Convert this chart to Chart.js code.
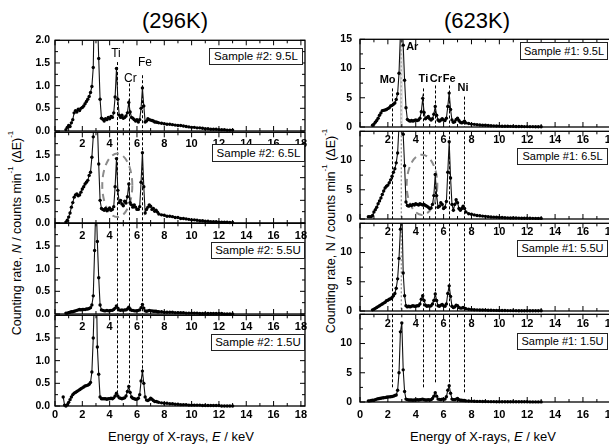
<!DOCTYPE html>
<html>
<head>
<meta charset="utf-8">
<script src="https://cdn.jsdelivr.net/npm/chart.js@4.4.1/dist/chart.umd.min.js"></script>
<style>
html,body{margin:0;padding:0;background:#fff;}
body{width:609px;height:446px;overflow:hidden;position:relative;font-family:Arial,"Liberation Sans",sans-serif;color:#000;}
canvas.panel{position:absolute;}
.ttl{position:absolute;font-size:22px;transform:translateX(-50%);white-space:nowrap;line-height:26px;}
.ylab{position:absolute;font-size:12.5px;white-space:nowrap;transform:translate(-50%,-50%) rotate(-90deg);}
.xlab{position:absolute;font-size:13px;white-space:nowrap;transform:translateX(-50%);}
.tag{position:absolute;border:1px solid #222;background:#fff;font-size:11.5px;text-align:center;box-sizing:border-box;white-space:nowrap;}
sup{font-size:8px;line-height:0;vertical-align:top;position:relative;top:1px;}
</style>
</head>
<body>
<div class="ttl" style="left:175px;top:8px">(296K)</div>
<div class="ttl" style="left:477px;top:8px">(623K)</div>
<div class="ylab" style="left:17px;top:233px">Counting rate, <i>N</i> / counts min<sup>-1</sup> (&Delta;E)<sup>-1</sup></div>
<div class="ylab" style="left:331px;top:231px">Counting rate, N / counts min<sup>-1</sup> (&Delta;E)<sup>-1</sup></div>
<div class="xlab" style="left:181px;top:429px">Energy of X-rays, <i>E</i> / keV</div>
<div class="xlab" style="left:483px;top:429px">Energy of X-rays, <i>E</i> / keV</div>
<script>
/* ---------- data: energy grid (keV) and counting rates ---------- */
const E_KEV = [
  0.6,0.7,0.8,0.9,1.0,1.1,1.2,1.3,1.4,1.5,
  1.6,1.7,1.8,1.9,2.0,2.1,2.2,2.3,2.4,2.5,
  2.6,2.7,2.8,2.9,3.0,3.1,3.2,3.3,3.4,3.5,
  3.6,3.7,3.8,3.9,4.0,4.1,4.2,4.3,4.4,4.5,
  4.6,4.7,4.8,4.9,5.0,5.1,5.2,5.3,5.4,5.5,
  5.6,5.7,5.8,5.9,6.0,6.1,6.2,6.3,6.4,6.5,
  6.6,6.7,6.8,6.9,7.0,7.1,7.2,7.3,7.4,7.5,
  7.6,7.8,8.0,8.2,8.4,8.6,8.8,9.0,9.2,9.4,
  9.6,9.8,10.0,10.2,10.4,10.6,10.8,11.0,11.2,11.4,
  11.6,11.8,12.0,12.2,12.4,12.6,12.8,13.0
];

/* 296K, sample #2 */
const S2_95L = [
  null,null,0.03,0.08,0.12,0.1,0.18,0.25,0.4,0.45,
  0.42,0.48,0.45,0.5,0.52,0.55,0.6,0.65,0.7,0.76,
  0.85,0.98,1.4,3.2,4.0,2.6,1.6,0.7,0.28,0.26,
  0.22,0.27,0.25,0.3,0.27,0.32,0.3,0.4,0.75,1.38,
  0.7,0.35,0.3,0.35,0.28,0.3,0.33,0.4,0.63,0.42,
  0.3,0.28,0.25,0.22,0.25,0.2,0.25,0.5,0.95,0.55,
  0.2,0.22,0.27,0.25,0.24,0.23,0.22,0.2,0.2,0.19,
  0.18,0.17,0.16,0.15,0.15,0.14,0.13,0.12,0.12,0.11,
  0.1,0.09,0.08,0.08,0.07,0.07,0.06,0.05,0.05,0.04,
  0.04,0.04,0.03,0.03,0.03,0.02,0.02,0.02
];
const S2_65L = [
  null,null,0.02,0.06,0.13,0.22,0.35,0.45,0.57,0.62,
  0.64,0.6,0.62,0.68,0.75,0.8,0.86,0.9,0.94,1.05,
  1.12,1.45,1.9,3.5,4.0,2.2,1.3,0.5,0.32,0.3,
  0.28,0.32,0.27,0.3,0.33,0.28,0.3,0.36,0.8,1.42,
  0.72,0.45,0.5,0.42,0.38,0.48,0.44,0.58,0.86,0.45,
  0.4,0.35,0.4,0.35,0.3,0.3,0.36,0.9,1.55,0.8,
  0.22,0.3,0.35,0.4,0.37,0.3,0.32,0.26,0.28,0.24,
  0.2,0.18,0.17,0.15,0.15,0.14,0.12,0.12,0.1,0.1,
  0.09,0.08,0.07,0.07,0.06,0.05,0.05,0.04,0.04,0.03,
  0.03,0.03,0.02,0.02,0.02,0.02,0.01,0.01
];
const S2_55U = [
  null,null,0.02,0.02,0.03,0.04,0.05,0.05,0.06,0.07,
  0.08,0.09,0.1,0.09,0.1,0.1,0.1,0.11,0.11,0.12,
  0.14,0.2,0.4,1.4,2.6,1.6,0.8,0.2,0.09,0.08,
  0.07,0.07,0.08,0.07,0.07,0.08,0.08,0.1,0.13,0.18,
  0.13,0.09,0.08,0.09,0.08,0.09,0.09,0.11,0.15,0.11,
  0.08,0.08,0.07,0.07,0.07,0.08,0.09,0.14,0.21,0.13,
  0.07,0.06,0.07,0.08,0.07,0.07,0.06,0.06,0.06,0.05,
  0.05,0.05,0.04,0.04,0.04,0.04,0.03,0.03,0.03,0.03,
  0.02,0.02,0.02,0.02,0.02,0.01,0.01,0.01,0.01,0.01,
  0.01,0.01,0.01,0.01,0,0,0,0
];
const S2_15U = [
  0.2,0.02,0.0,0.03,0.08,0.14,0.2,0.25,0.28,0.3,
  0.32,0.34,0.36,0.38,0.4,0.42,0.44,0.45,0.46,0.48,
  0.52,0.75,1.5,2.6,3.2,1.3,0.7,0.2,0.16,0.16,
  0.16,0.16,0.15,0.16,0.16,0.17,0.16,0.18,0.22,0.28,
  0.22,0.18,0.17,0.16,0.17,0.18,0.22,0.32,0.43,0.3,
  0.2,0.17,0.16,0.15,0.15,0.17,0.25,0.55,0.77,0.5,
  0.2,0.13,0.12,0.14,0.17,0.15,0.12,0.1,0.1,0.09,
  0.08,0.07,0.06,0.06,0.05,0.05,0.04,0.04,0.03,0.03,
  0.03,0.02,0.02,0.02,0.02,0.02,0.01,0.01,0.01,0.01,
  0.01,0.01,0.01,0,0,0,0,0
];

/* 623K, sample #1 */
const S1_95L = [
  null,null,null,0.3,0.5,0.8,1.1,1.5,2.0,2.4,
  2.8,2.85,2.9,3.0,3.15,3.3,3.6,3.7,3.9,4.1,
  4.7,5.7,9.2,16,20,14,8.0,3.3,1.3,1.1,
  1.0,1.1,1.0,1.1,1.2,1.1,1.2,1.5,2.6,4.9,
  2.5,1.4,1.6,1.8,1.4,1.2,1.4,2.2,3.5,2.0,
  1.2,1.0,1.2,1.4,1.2,1.1,1.5,3.5,5.8,3.0,
  1.2,0.8,0.9,1.3,1.5,1.1,0.8,0.7,0.8,1.0,
  0.7,0.6,0.5,0.45,0.4,0.35,0.3,0.3,0.25,0.22,
  0.2,0.18,0.15,0.14,0.13,0.12,0.11,0.1,0.09,0.08,
  0.08,0.07,0.07,0.06,0.06,0.05,0.05,0.05
];
const S1_65L = [
  0.4,0.4,0.4,0.6,1.2,1.6,2.0,2.6,3.1,3.6,
  4.2,4.8,5.3,5.6,5.8,6.2,6.7,7.3,8.0,8.6,
  9.6,11.3,16,20,20,14.5,9.1,2.9,2.3,2.2,
  2.4,2.3,2.5,2.4,2.6,2.5,2.4,2.6,2.5,2.4,
  2.5,2.3,2.2,2.0,1.8,1.9,2.5,4.0,7.6,4.0,
  2.0,2.2,2.8,2.5,1.8,2.0,3.0,8.0,13.2,7.0,
  2.5,1.5,2.5,3.3,2.8,1.8,1.5,1.8,2.2,1.8,
  1.2,0.9,0.8,0.7,0.6,0.55,0.5,0.45,0.4,0.35,
  0.32,0.3,0.25,0.25,0.22,0.2,0.18,0.17,0.16,0.15,
  0.14,0.13,0.12,0.12,0.11,0.1,0.1,0.1
];
const S1_55U = [
  null,null,null,0.2,0.3,0.45,0.6,0.75,0.9,1.05,
  1.2,1.35,1.5,1.75,1.85,2.0,2.1,2.3,2.6,3.0,
  3.9,5.5,9.0,14,18,6.5,2.6,0.9,0.7,0.8,
  0.7,0.8,0.9,0.8,0.8,0.9,0.9,1.2,2.0,2.6,
  1.8,1.0,0.8,0.9,0.8,0.9,1.2,1.8,2.9,1.8,
  0.9,0.8,1.0,1.1,0.9,0.8,1.2,3.0,4.3,2.5,
  0.8,0.6,0.7,1.0,0.9,0.6,0.5,0.5,0.6,0.5,
  0.4,0.3,0.25,0.22,0.2,0.18,0.16,0.15,0.13,0.12,
  0.11,0.1,0.09,0.08,0.08,0.07,0.07,0.06,0.06,0.05,
  0.05,0.05,0.04,0.04,0.04,0.04,0.03,0.03
];
const S1_15U = [
  0.2,0.2,0.25,0.3,0.3,0.4,0.5,0.55,0.6,0.65,
  0.7,0.72,0.75,0.8,0.85,0.88,0.9,0.95,1.0,1.1,
  1.2,2.0,5.0,12,13.5,5.5,1.8,0.5,0.4,0.35,
  0.35,0.35,0.3,0.35,0.35,0.4,0.35,0.4,0.45,0.5,
  0.4,0.35,0.35,0.4,0.35,0.4,0.6,1.0,1.6,1.0,
  0.5,0.45,0.4,0.5,0.45,0.5,0.9,2.0,2.8,1.5,
  0.5,0.4,0.4,0.5,0.6,0.4,0.3,0.3,0.25,0.25,
  0.2,0.18,0.15,0.12,0.1,0.1,0.08,0.08,0.07,0.06,
  0.06,0.05,0.05,0.05,0.04,0.04,0.04,0.04,0.03,0.03,
  0.03,0.03,0.03,0.02,0.02,0.02,0.02,0.02
];

const LEFT_TAGS  = ["Sample #2: 9.5L","Sample #2: 6.5L","Sample #2: 5.5U","Sample #2: 1.5U"];
const RIGHT_TAGS = ["Sample #1: 9.5L","Sample #1: 6.5L","Sample #1: 5.5U","Sample #1: 1.5U"];

const X_TICKS       = [0,2,4,6,8,10,12,14,16,18];
const LEFT_Y_TICKS  = [0,0.5,1,1.5,2];
const RIGHT_Y_TICKS = [0,5,10,15];

/* element lines (keV) */
const LEFT_MARK_E  = [4.51,5.41,6.40];
const LEFT_MARK_TOP = [[1.52,1.05,1.23],[2,2,2],[2,2,2],[2,2,2]];
const LEFT_MARK_BOT = [[0,0,0],[0,0,0],[0,0,0],[0.3,0.45,0.8]];
const RIGHT_MARK_E  = [2.29,4.51,5.41,6.40,7.48];
const RIGHT_MARK_TOP = [[6.6,6.6,7.1,7.1,5.2],[15,15,15,15,15],[15,15,15,15,15],[15,15,15,15,15]];
const RIGHT_MARK_BOT = [[0,0,0,0,0],[0,0,0,0,0],[0,0,0,0,0],[2.5,2.5,3.3,3.0,1.4]];
const AR_BAND = [2.88,3.04];

const LEFT_LABELS  = [["Ti",4.46,1.7],["Cr",5.52,1.15],["Fe",6.58,1.5]];
const RIGHT_LABELS = [["Ar",3.75,13.7],["Mo",1.98,8.0],["Ti",4.55,8.3],["Cr",5.45,8.3],["Fe",6.4,8.3],["Ni",7.39,6.7]];

const LEFT_ELLIPSE  = [4.56,0.83,1.1,0.7];   // cx, cy, rx, ry in data units
const RIGHT_ELLIPSE = [4.45,5.85,1.1,5.15];

/* ---------- layout ---------- */
const PLOT_H = 92;
const COLS = [
  {name:"L", left:55, plotW:250, tops:[39,131,222,314], ymax:2, yTicks:LEFT_Y_TICKS, minorY:0.25,
   fmt:v=>v.toFixed(1), ypad:5, xpad:[6,6,6,2],
   series:[S2_95L,S2_65L,S2_55U,S2_15U],
   markE:LEFT_MARK_E, markTop:LEFT_MARK_TOP, markBot:LEFT_MARK_BOT,
   labels:LEFT_LABELS, labelFont:"12px Arial, 'Liberation Sans'", ellipse:LEFT_ELLIPSE,
   tags:LEFT_TAGS, tagBox:[[209,48,94,17],[212,144,93,18],[211,242,94,17],[211,334,94,17]], tagFont:11.5},
  {name:"R", left:360, plotW:255, tops:[35,127,219,310], ymax:15, yTicks:RIGHT_Y_TICKS, minorY:2.5,
   fmt:v=>String(v), ypad:8, xpad:[6,6,6,6],
   series:[S1_95L,S1_65L,S1_55U,S1_15U],
   markE:RIGHT_MARK_E, markTop:RIGHT_MARK_TOP, markBot:RIGHT_MARK_BOT,
   labels:RIGHT_LABELS, labelFont:"bold 11px Arial, 'Liberation Sans'", ellipse:RIGHT_ELLIPSE,
   tags:RIGHT_TAGS, tagBox:[[520,42,88,18],[517,148,91,17],[517,240,91,17],[517,333,91,17]], tagFont:11}
];

Chart.defaults.font.family = "Arial, 'Liberation Sans', sans-serif";

function decorFor(col, i){
  return {
    id: "decor" + col.name + i,
    beforeDatasetsDraw(chart){
      const ctx = chart.ctx, x = chart.scales.x, y = chart.scales.y;
      const a = chart.chartArea;
      ctx.save();
      ctx.beginPath(); ctx.rect(a.left, a.top, a.right - a.left, a.bottom - a.top); ctx.clip();
      // Ar band / line (623K only)
      if (col.name === "R" && i < 3) {
        const x0 = x.getPixelForValue(AR_BAND[0]), x1 = x.getPixelForValue(AR_BAND[1]);
        if (i === 0) {
          ctx.fillStyle = "#b0b0b0";
          ctx.fillRect(x0, a.top, x1 - x0, a.bottom - a.top);
          ctx.strokeStyle = "#fff";
        } else {
          ctx.strokeStyle = "#777";
        }
        ctx.lineWidth = 1; ctx.setLineDash([2,2]);
        const xm = (x0 + x1) / 2;
        ctx.beginPath(); ctx.moveTo(xm, a.top); ctx.lineTo(xm, a.bottom); ctx.stroke();
      }
      // element lines
      ctx.strokeStyle = "#000"; ctx.lineWidth = 1; ctx.setLineDash([3,2]);
      col.markE.forEach((e, k) => {
        const px = Math.round(x.getPixelForValue(e)) + 0.5;
        ctx.beginPath();
        ctx.moveTo(px, y.getPixelForValue(col.markTop[i][k]));
        ctx.lineTo(px, y.getPixelForValue(col.markBot[i][k]));
        ctx.stroke();
      });
      // dashed ellipse on 6.5L panel
      if (i === 1) {
        const [cx, cy, rx, ry] = col.ellipse;
        const pcx = x.getPixelForValue(cx), pcy = y.getPixelForValue(cy);
        const prx = x.getPixelForValue(cx + rx) - pcx, pry = pcy - y.getPixelForValue(cy + ry);
        ctx.strokeStyle = "#8c8c8c"; ctx.lineWidth = 2; ctx.setLineDash([7,5]);
        ctx.beginPath(); ctx.ellipse(pcx, pcy, prx, pry, 0, 0, Math.PI * 2); ctx.stroke();
      }
      ctx.restore();
    },
    afterDraw(chart){
      const ctx = chart.ctx, x = chart.scales.x, y = chart.scales.y;
      const a = chart.chartArea;
      ctx.save();
      ctx.strokeStyle = "#000"; ctx.lineWidth = 1.3; ctx.setLineDash([]);
      ctx.strokeRect(a.left, a.top, a.right - a.left, a.bottom - a.top);
      ctx.lineWidth = 1;
      ctx.beginPath();
      for (let k = 0; k <= 18; k++) {
        const px = x.getPixelForValue(k), len = k % 2 === 0 ? 5 : 3;
        ctx.moveTo(px, a.bottom); ctx.lineTo(px, a.bottom - len);
        ctx.moveTo(px, a.top); ctx.lineTo(px, a.top + len);
      }
      const nY = Math.round(col.ymax / col.minorY);
      for (let k = 0; k <= nY; k++) {
        const py = y.getPixelForValue(k * col.minorY), len = k % 2 === 0 ? 5 : 3;
        ctx.moveTo(a.left, py); ctx.lineTo(a.left + len, py);
        ctx.moveTo(a.right, py); ctx.lineTo(a.right - len, py);
      }
      ctx.stroke();
      if (i === 0) {
        ctx.fillStyle = "#000"; ctx.font = col.labelFont;
        ctx.textAlign = "center"; ctx.textBaseline = "middle";
        col.labels.forEach(([t, e, v]) => ctx.fillText(t, x.getPixelForValue(e), y.getPixelForValue(v)));
      }
      ctx.restore();
    }
  };
}

function makePanel(col, i){
  const W = 50 + col.plotW + 10, H = 10 + PLOT_H + 22;
  const cv = document.createElement("canvas");
  cv.className = "panel";
  cv.width = W; cv.height = H;
  cv.style.left = (col.left - 50) + "px"; cv.style.top = (col.tops[i] - 10) + "px";
  cv.style.width = W + "px"; cv.style.height = H + "px";
  document.body.appendChild(cv);
  const pts = E_KEV.map((e, k) => ({x: e, y: col.series[i][k]}));
  new Chart(cv, {
    type: "line",
    data: {datasets: [{
      data: pts, borderColor: "#111", borderWidth: 1.1, tension: 0,
      pointRadius: 1.7, pointBackgroundColor: "#000", pointBorderWidth: 0,
      clip: {left: 0, top: 0, right: 0, bottom: 4}
    }]},
    options: {
      responsive: false, animation: false, devicePixelRatio: 1,
      layout: {padding: {top: 10, right: 10, left: 0, bottom: 0}},
      plugins: {legend: {display: false}, tooltip: {enabled: false}},
      scales: {
        x: {
          type: "linear", min: 0, max: 18.3,
          grid: {display: false, drawTicks: false}, border: {display: false},
          afterBuildTicks: s => { s.ticks = X_TICKS.map(v => ({value: v})); },
          afterFit: s => { s.height = 22; },
          ticks: {autoSkip: false, maxRotation: 0, padding: col.xpad[i], color: "#000",
                  font: {size: 11, weight: "bold"},
                  callback: v => (v === 0 && i < 3) ? "" : String(v)}
        },
        y: {
          type: "linear", min: 0, max: col.ymax,
          grid: {display: false, drawTicks: false}, border: {display: false},
          afterBuildTicks: s => { s.ticks = col.yTicks.map(v => ({value: v})); },
          afterFit: s => { s.width = 50; },
          ticks: {autoSkip: false, padding: col.ypad, color: "#000",
                  font: {size: 10.5, weight: "bold"},
                  callback: v => (v === col.ymax && i > 0) ? "" : col.fmt(v)}
        }
      }
    },
    plugins: [decorFor(col, i)]
  });
  const [bx, by, bw, bh] = col.tagBox[i];
  const tag = document.createElement("div");
  tag.className = "tag";
  tag.textContent = col.tags[i];
  Object.assign(tag.style, {left: bx + "px", top: by + "px", width: bw + "px", height: bh + "px",
    lineHeight: (bh - 2) + "px", fontSize: col.tagFont + "px"});
  document.body.appendChild(tag);
}

COLS.forEach(col => [0,1,2,3].forEach(i => makePanel(col, i)));
</script>
</body>
</html>
